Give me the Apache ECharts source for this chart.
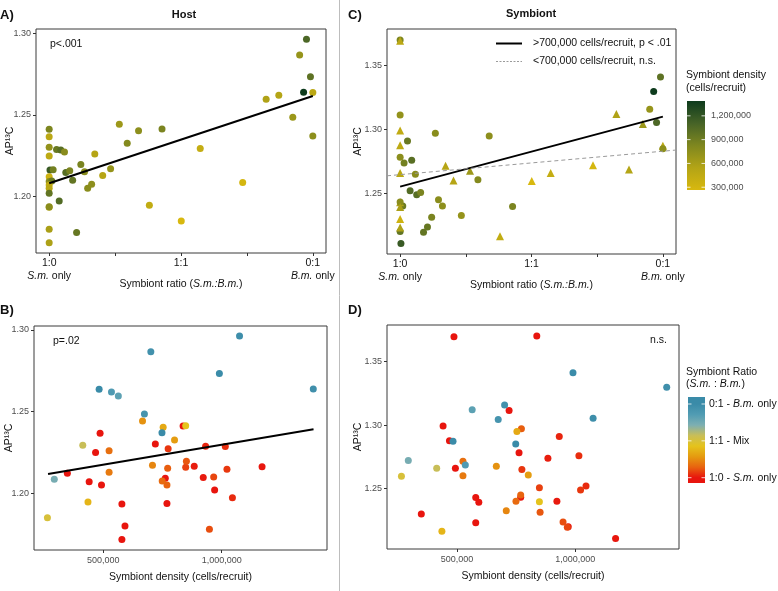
<!DOCTYPE html>
<html><head><meta charset="utf-8">
<script src="https://cdn.jsdelivr.net/npm/echarts@6/dist/echarts.min.js"></script>
<style>html,body{margin:0;padding:0;background:#fff}#c{width:778px;height:591px}</style>
</head><body><div id="c"></div>
<script>
const ratio   = [0,0,0,0,0.003,0.015,0,0,0.010,0,0,0,0,0,0,0,0.028,0.044,0.058,0.038,0.063,0.078,0.089,0.104,0.120,0.134,0.146,0.161,0.173,0.203,0.233,0.266,0.296,0.339,0.380,0.428,0.501,0.573,0.734,0.823,0.871,0.924,0.950,0.965,0.976,0.991,1.0,1.0];
const density = [837000,487000,720000,468000,1170000,884000,349000,762000,922000,441000,493000,970000,579000,769000,592000,579000,932000,1015000,774000,1045000,1022000,848000,966000,948000,851000,772000,769000,749000,525000,525000,708000,666000,801000,753000,436000,848000,265000,414000,294000,564000,535000,674000,701000,1386000,1075000,990000,483000,748000];
const hostAP  = [1.2412,1.2367,1.2302,1.2249,1.2163,1.2165,1.2122,1.2092,1.2096,1.2071,1.2051,1.2020,1.1935,1.1938,1.1800,1.1718,1.2288,1.2286,1.2273,1.1973,1.2147,1.2159,1.2100,1.1780,1.2196,1.2153,1.2051,1.2076,1.2261,1.2129,1.2171,1.2443,1.2327,1.2404,1.1947,1.2414,1.1851,1.2294,1.2086,1.2596,1.2620,1.2486,1.2867,1.2639,1.2963,1.2733,1.2637,1.2371];
const symAP   = [1.3701,1.3696,1.3114,1.2876,1.2106,1.2738,1.2299,1.2782,1.2401,1.2993,1.2660,1.2200,1.2430,1.2432,1.2393,1.2231,1.2910,1.2759,1.2650,1.2520,1.2488,1.2506,1.2195,1.2236,1.2313,1.2971,1.2449,1.2401,1.2716,1.2600,1.2326,1.2676,1.2607,1.2949,1.2164,1.2397,1.2596,1.2659,1.2720,1.3121,1.2686,1.3043,1.3158,1.3298,1.3054,1.3412,1.2872,1.2850];
const densityCut = 700000;
const fitHostRatio   = [[0,1.2082],[1,1.2616]];
const fitHostDensity = [[267600,1.2118],[1387000,1.2392]];
const fitSymHigh     = [[0,1.2552],[1,1.3101]];
const fitSymLow      = [[-0.05,1.2637],[1.05,1.2839]];
const ratioTicks = [0,0.25,0.5,0.75,1];
const ratioLabelVals = [0,0.5,1];
const ratioLabelText = {0:'1:0\n{i|S.m.} only', 0.5:'1:1', 1:'0:1\n{i|B.m.} only'};
const densityTicks = [500000,1000000];
const hostTicks = [1.20,1.25,1.30];
const symTicks = [1.25,1.30,1.35];
const densityLegendTicks = [300000,600000,900000,1200000];
const ratioLegendTicks = [1,0.5,0];
const ratioLegendText = ['0:1 - {i|B.m.} only','1:1 - Mix','1:0 - {i|S.m.} only'];
const densityColors = ['#D8B80F','#B3A416','#7F871F','#466327','#0E3B1D'];
const ratioColors = ['#E8150E','#E8630F','#E59A10','#E5C31C','#C9BE57','#7DAFB2','#519CB3','#3A8BA8'];
const densityMin = 265000, densityMax = 1387000;
const legendNames = ['>700,000 cells/recruit, p < .01', '<700,000 cells/recruit, n.s.'];

const FONT = 'Liberation Sans, Arial, sans-serif';
const idx = ratio.map((_, i) => i);
const dataA = idx.map(i => [ratio[i], hostAP[i], density[i]]);
const dataB = idx.map(i => [density[i], hostAP[i], ratio[i]]);
const dataC = idx.map(i => [ratio[i], symAP[i], density[i]]);
const dataD = idx.map(i => [density[i], symAP[i], ratio[i]]);

const fmtNum = v => v.toLocaleString('en-US');
const italicRich = size => ({ i: { fontStyle: 'italic', fontSize: size, fontFamily: FONT, color: '#111', lineHeight: 13 } });
const tickStyle = { color: '#333', width: 1 };

function ratioXAxis(gi) {
  return {
    type: 'value', gridIndex: gi, min: -0.05, max: 1.05,
    splitLine: { show: false }, axisLine: { show: false, onZero: false },
    axisTick: { show: true, length: 3, lineStyle: tickStyle, customValues: ratioTicks },
    axisLabel: {
      customValues: ratioLabelVals, margin: 4, fontSize: 10.5, fontFamily: FONT, color: '#111', lineHeight: 13,
      formatter: v => ratioLabelText[Math.round(v * 2) / 2] || '', rich: italicRich(10.5)
    },
    name: 'Symbiont ratio ({i|S.m.:B.m.})', nameLocation: 'middle', nameGap: 25, nameMoveOverlap: false,
    nameTextStyle: { fontSize: 10.5, fontFamily: FONT, color: '#111', rich: italicRich(10.5) }
  };
}
function densityXAxis(gi, min, max) {
  return {
    type: 'value', gridIndex: gi, min: min, max: max,
    splitLine: { show: false }, axisLine: { show: false, onZero: false },
    axisTick: { show: true, length: 3, lineStyle: tickStyle, customValues: densityTicks },
    axisLabel: { customValues: densityTicks, margin: 6, fontSize: 9, fontFamily: FONT, color: '#4d4d4d', formatter: fmtNum },
    name: 'Symbiont density (cells/recruit)', nameLocation: 'middle', nameGap: 22, nameMoveOverlap: false,
    nameTextStyle: { fontSize: 10.5, fontFamily: FONT, color: '#111' }
  };
}
function apYAxis(gi, min, max, ticks, gap) {
  return {
    type: 'value', gridIndex: gi, min: min, max: max,
    splitLine: { show: false }, axisLine: { show: false, onZero: false },
    axisTick: { show: true, length: 3, lineStyle: tickStyle, customValues: ticks },
    axisLabel: { customValues: ticks, margin: 5, fontSize: 9, fontFamily: FONT, color: '#4d4d4d', formatter: v => v.toFixed(2) },
    name: 'AP¹³C', nameLocation: 'middle', nameGap: gap, nameRotate: 90, nameMoveOverlap: false,
    nameTextStyle: { fontSize: 10.5, fontFamily: FONT, color: '#111' }
  };
}
const gridBase = { show: true, borderColor: '#3a3a3a', borderWidth: 1, backgroundColor: 'transparent', containLabel: false, outerBoundsMode: 'none' };

function textEl(x, y, text, opts) {
  opts = opts || {};
  const align = opts.align || 'left';
  return {
    type: 'text', silent: true, z: 100,
    style: Object.assign({
      x: x, y: y, text: text, fill: opts.color || '#111',
      fontSize: opts.size || 10.5, fontFamily: FONT, fontWeight: opts.weight || 'normal',
      align: align, textAlign: align, verticalAlign: 'middle', textVerticalAlign: 'middle'
    }, opts.rich ? { rich: opts.rich } : {})
  };
}

const dBar = { x: 687, y0: 101, y1: 190, w: 18 };
const rBar = { x: 688, y0: 397, y1: 483, w: 17, v0y: 477.7, v1y: 404 };
const dY = v => dBar.y1 - (v - densityMin) / (densityMax - densityMin) * (dBar.y1 - dBar.y0);
const rY = v => rBar.v0y - v * (rBar.v0y - rBar.v1y);
const graphics = [];
graphics.push({ type: 'line', silent: true, shape: { x1: 339.5, y1: 0, x2: 339.5, y2: 591 }, style: { stroke: '#bdbdbd', lineWidth: 1 } });
graphics.push({
  type: 'rect', silent: true, shape: { x: dBar.x, y: dBar.y0, width: dBar.w, height: dBar.y1 - dBar.y0 },
  style: { fill: { type: 'linear', x: 0, y: 1, x2: 0, y2: 0, colorStops: densityColors.map((c, k) => ({ offset: k / (densityColors.length - 1), color: c })) } }
});
const rH = rBar.y1 - rBar.y0;
const rStops = [{ offset: 0, color: ratioColors[0] }];
ratioColors.forEach((c, k) => { const t = k / (ratioColors.length - 1); rStops.push({ offset: (rBar.y1 - rY(t)) / rH, color: c }); });
rStops.push({ offset: 1, color: ratioColors[ratioColors.length - 1] });
graphics.push({
  type: 'rect', silent: true, shape: { x: rBar.x, y: rBar.y0, width: rBar.w, height: rH },
  style: { fill: { type: 'linear', x: 0, y: 1, x2: 0, y2: 0, colorStops: rStops } }
});
densityLegendTicks.forEach(v => {
  const y = dY(v);
  graphics.push({ type: 'line', silent: true, shape: { x1: dBar.x, y1: y, x2: dBar.x + 3.5, y2: y }, style: { stroke: '#fff', lineWidth: 1, opacity: 0.8 } });
  graphics.push({ type: 'line', silent: true, shape: { x1: dBar.x + dBar.w - 3.5, y1: y, x2: dBar.x + dBar.w, y2: y }, style: { stroke: '#fff', lineWidth: 1, opacity: 0.8 } });
  graphics.push(textEl(711, y, fmtNum(v), { size: 9, color: '#4d4d4d' }));
});
ratioLegendTicks.forEach((v, k) => {
  const y = rY(v);
  graphics.push({ type: 'line', silent: true, shape: { x1: rBar.x, y1: y, x2: rBar.x + 3.5, y2: y }, style: { stroke: '#fff', lineWidth: 1, opacity: 0.8 } });
  graphics.push({ type: 'line', silent: true, shape: { x1: rBar.x + rBar.w - 3.5, y1: y, x2: rBar.x + rBar.w, y2: y }, style: { stroke: '#fff', lineWidth: 1, opacity: 0.8 } });
  graphics.push(textEl(709, y, ratioLegendText[k], { size: 10.5, rich: italicRich(10.5) }));
});
graphics.push(textEl(686, 75, 'Symbiont density', {}));
graphics.push(textEl(686, 88, '(cells/recruit)', {}));
graphics.push(textEl(686, 372, 'Symbiont Ratio', {}));
graphics.push(textEl(686, 384, '({i|S.m.} : {i|B.m.})', { rich: italicRich(10.5) }));
graphics.push({ type: 'line', silent: true, shape: { x1: 496, y1: 43.5, x2: 522, y2: 43.5 }, style: { stroke: '#000', lineWidth: 2 } });
graphics.push({ type: 'line', silent: true, shape: { x1: 496, y1: 61.5, x2: 522, y2: 61.5 }, style: { stroke: '#9a9a9a', lineWidth: 1, lineDash: [2, 1.5] } });
graphics.push(textEl(533, 43.5, legendNames[0], {}));
graphics.push(textEl(533, 61.5, legendNames[1], {}));
graphics.push(textEl(0, 15, 'A)', { size: 13, weight: 'bold' }));
graphics.push(textEl(348, 15, 'C)', { size: 13, weight: 'bold' }));
graphics.push(textEl(0, 310, 'B)', { size: 13, weight: 'bold' }));
graphics.push(textEl(348, 310, 'D)', { size: 13, weight: 'bold' }));
graphics.push(textEl(184, 15, 'Host', { size: 11, weight: 'bold', align: 'center' }));
graphics.push(textEl(531, 14, 'Symbiont', { size: 11, weight: 'bold', align: 'center' }));
graphics.push(textEl(50, 44, 'p<.001', { size: 10.5 }));
graphics.push(textEl(53, 341, 'p=.02', { size: 10.5 }));
graphics.push(textEl(667, 340, 'n.s.', { size: 10.5, align: 'right' }));

const scatterBase = { type: 'scatter', symbolSize: 7, itemStyle: { opacity: 1 }, z: 2 };
const option = {
  animation: false,
  backgroundColor: '#fff',
  textStyle: { fontFamily: FONT },
  grid: [
    Object.assign({ left: 36, top: 29, width: 290, height: 224 }, gridBase),
    Object.assign({ left: 34, top: 326, width: 293, height: 224 }, gridBase),
    Object.assign({ left: 387, top: 29, width: 289, height: 225 }, gridBase),
    Object.assign({ left: 387, top: 325, width: 292, height: 224 }, gridBase)
  ],
  xAxis: [ratioXAxis(0), densityXAxis(1, 208400, 1443800), ratioXAxis(2), densityXAxis(3, 204000, 1438000)],
  yAxis: [apYAxis(0, 1.1655, 1.3026, hostTicks, 20), apYAxis(1, 1.1653, 1.3024, hostTicks, 19),
          apYAxis(2, 1.2024, 1.3788, symTicks, 23), apYAxis(3, 1.2024, 1.3788, symTicks, 23)],
  visualMap: [
    { type: 'continuous', show: false, seriesIndex: [0, 2], dimension: 2, min: densityMin, max: densityMax, inRange: { color: densityColors } },
    { type: 'continuous', show: false, seriesIndex: [1, 3], dimension: 2, min: 0, max: 1, inRange: { color: ratioColors } }
  ],
  series: [
    Object.assign({}, scatterBase, { xAxisIndex: 0, yAxisIndex: 0, data: dataA }),
    Object.assign({}, scatterBase, { xAxisIndex: 1, yAxisIndex: 1, data: dataB }),
    Object.assign({}, scatterBase, { xAxisIndex: 2, yAxisIndex: 2, data: dataC,
      symbol: v => v[2] > densityCut ? 'circle' : 'triangle',
      symbolSize: v => v[2] > densityCut ? 7 : 8 }),
    Object.assign({}, scatterBase, { xAxisIndex: 3, yAxisIndex: 3, data: dataD }),
    { type: 'line', xAxisIndex: 0, yAxisIndex: 0, data: fitHostRatio, symbol: 'none', z: 5, lineStyle: { color: '#000', width: 2 } },
    { type: 'line', xAxisIndex: 1, yAxisIndex: 1, data: fitHostDensity, symbol: 'none', z: 5, lineStyle: { color: '#000', width: 2 } },
    { name: legendNames[0], type: 'line', xAxisIndex: 2, yAxisIndex: 2, data: fitSymHigh, symbol: 'none', z: 5, lineStyle: { color: '#000', width: 2 } },
    { name: legendNames[1], type: 'line', xAxisIndex: 2, yAxisIndex: 2, data: fitSymLow, symbol: 'none', z: 5, clip: true, lineStyle: { color: '#9a9a9a', width: 1, type: [4, 3] } }
  ],
  graphic: { elements: graphics }
};
const chart = echarts.init(document.getElementById('c'), null, { renderer: 'canvas' });
chart.setOption(option);
</script></body></html>
